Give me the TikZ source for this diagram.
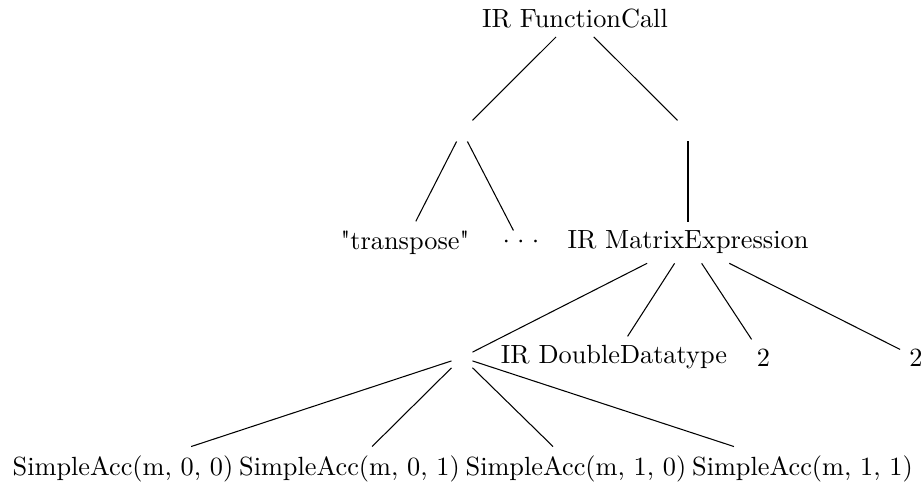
\documentclass[tikz,border=0pt]{standalone}
\usepackage{fontspec}
\setmainfont{Latin Modern Roman}[Ligatures=TeXOff]
\usepackage{tikz}
\usetikzlibrary{positioning}

\tikzset{
  junction/.style={inner sep=3.8pt},
  branch/.style={draw=black, line width=0.4pt}
}

\begin{document}
\begin{tikzpicture}
  \useasboundingbox (0, 0) rectangle (12.305, 6.493);

  % Root
  \node (call) at (7.682, 6.252) {IR FunctionCall};

  % First level
  \node[junction] (argsL) at (6.172, 4.743) {};
  \node[junction] (argsR) at (9.192, 4.743) {};

  % Second level
  \node (name) at (5.411, 3.253) {"transpose"};
  \node (more) at (6.96, 3.22) {·\kern-2.2pt·\kern-2.2pt·};
  \node (matexpr) at (9.192, 3.253) {IR MatrixExpression};

  % Third level
  \node[junction] (elems) at (6.172, 1.717) {};
  \node (dtype) at (8.203, 1.717) {IR DoubleDatatype};
  \node (rows) at (10.200, 1.717) {2};
  \node (cols) at (12.238, 1.717) {2};

  % Leaves
  \node (acc00) at (1.643, 0.227) {SimpleAcc(m, 0, 0)};
  \node (acc01) at (4.669, 0.227) {SimpleAcc(m, 0, 1)};
  \node (acc10) at (7.695, 0.227) {SimpleAcc(m, 1, 0)};
  \node (acc11) at (10.721, 0.227) {SimpleAcc(m, 1, 1)};

  % Edges
  \draw[branch] (call) -- (argsL);
  \draw[branch] (call) -- (argsR);
  \draw[branch] (argsL) -- (name);
  \draw[branch] (argsL) -- (more);
  \draw[branch] (argsR) -- (matexpr);
  \draw[branch] (matexpr) -- (elems);
  \draw[branch] (matexpr) -- (dtype);
  \draw[branch] (matexpr) -- (rows);
  \draw[branch] (matexpr) -- (cols);
  \draw[branch] (elems) -- (acc00);
  \draw[branch] (elems) -- (acc01);
  \draw[branch] (elems) -- (acc10);
  \draw[branch] (elems) -- (acc11);
\end{tikzpicture}
\end{document}
